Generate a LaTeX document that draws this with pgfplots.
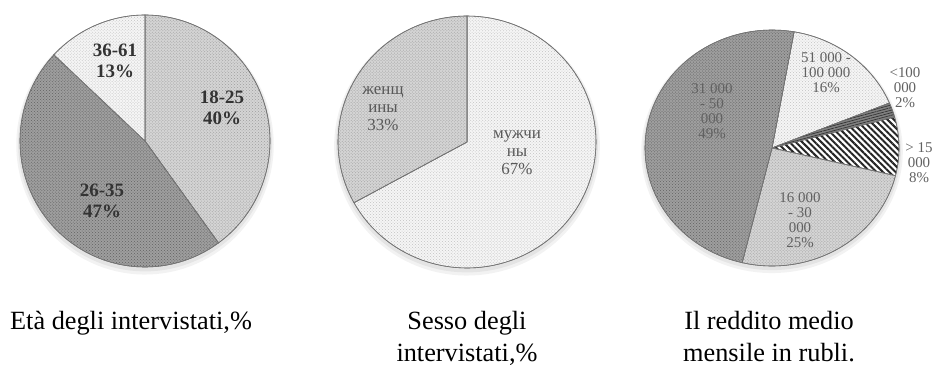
\documentclass[border=0pt]{standalone}
\usepackage{fontspec}
\setmainfont{Liberation Serif}
\usepackage{pgfplots}
\pgfplotsset{compat=1.18}
\usetikzlibrary{patterns,patterns.meta}

% current start angle of the next slice (degrees, slices run clockwise)
\newcommand\piestart{90}
% \slice{share in percent}{style}
\newcommand{\slice}[2]{%
  \pgfmathsetmacro\sa{\piestart}%
  \pgfmathsetmacro\sb{\piestart-3.6*#1}%
  \edef\doslice{\noexpand\addplot[\unexpanded{#2}, domain=\sb:\sa, samples=90]
    ({cos(x)},{sin(x)}) -- (axis cs:0,0) -- cycle;}%
  \doslice
  \xdef\piestart{\sb}}

% soft shadow below a pie
\newcommand{\pieshadow}{%
  \addplot[draw=none, fill=black, fill opacity=0.05, domain=0:360, samples=120]
    ({1.03*cos(x)},{1.03*sin(x)-0.03}) -- cycle;
  \addplot[draw=none, fill=black, fill opacity=0.06, domain=0:360, samples=120]
    ({1.015*cos(x)},{1.015*sin(x)-0.02}) -- cycle;}

\pgfplotsset{
  pie/.style={hide axis, scale only axis, clip=false, anchor=center,
    xmin=-1, xmax=1, ymin=-1, ymax=1},
  slicebase/.style={draw=black!55, line width=0.6bp},
  lightdot/.style={slicebase, fill=black!17,
    postaction={pattern=crosshatch dots, pattern color=black!38}},
  darkdot/.style={slicebase, fill=black!38,
    postaction={pattern=crosshatch dots, pattern color=black!62}},
  whitedot/.style={slicebase, fill=black!4,
    postaction={pattern=crosshatch dots, pattern color=black!24}},
  stripes/.style={slicebase, fill=white,
    postaction={pattern={Lines[angle=-45, distance=4.5pt, line width=2pt]},
      pattern color=black!85}},
  darkline/.style={slicebase, fill=black!50,
    postaction={pattern={Lines[angle=15, distance=2.5pt, line width=0.7pt]},
      pattern color=black!80}},
}

\begin{document}
\begin{tikzpicture}[x=1bp, y=1bp]
\useasboundingbox (0,0) rectangle (934,367);

% --- age of respondents ---
\begin{axis}[pie, at={(145bp,226bp)}, width=250bp, height=252bp]
  \pieshadow
  \renewcommand\piestart{90}
  \slice{40}{lightdot}
  \slice{47}{darkdot}
  \slice{13}{whitedot}
\end{axis}

% --- sex of respondents ---
\begin{axis}[pie, at={(467bp,225bp)}, width=258bp, height=252bp]
  \pieshadow
  \renewcommand\piestart{90}
  \slice{67}{whitedot}
  \slice{33}{lightdot}
\end{axis}

% --- average monthly income ---
\begin{axis}[pie, at={(772bp,219bp)}, width=254bp, height=236bp]
  \pieshadow
  \renewcommand\piestart{80}
  \slice{16}{whitedot}
  \slice{2}{darkline}
  \slice{8}{stripes}
  \slice{25}{lightdot}
  \slice{49}{darkdot}
\end{axis}

% slice labels
\begin{scope}[every node/.style={align=center, text=black!80,
    font=\fontsize{19}{21}\selectfont\bfseries}]
  \node at (115,306) {36-61\\13\%};
  \node at (222,259) {18-25\\40\%};
  \node at (102,166) {26-35\\47\%};
\end{scope}
\begin{scope}[every node/.style={align=center, text=black!65,
    font=\fontsize{17}{18}\selectfont}]
  \node at (383,258) {женщ\\ины\\33\%};
  \node at (517,214) {мужчи\\ны\\67\%};
\end{scope}
\begin{scope}[every node/.style={align=center, text=black!62,
    font=\fontsize{15}{15}\selectfont}]
  \node at (712,256) {31 000\\- 50\\000\\49\%};
  \node at (826,294) {51 000 -\\100 000\\16\%};
  \node at (905,279) {<100\\000\\2\%};
  \node at (919,204) {> 15\\000\\8\%};
  \node at (800,147) {16 000\\- 30\\000\\25\%};
\end{scope}

% captions
\begin{scope}[every node/.style={anchor=base, inner sep=0pt,
    font=\fontsize{26.4}{34}\selectfont}]
  \node at (131,38) {Età degli intervistati,\%};
  \node at (467,38) {Sesso degli};
  \node at (467,6) {intervistati,\%};
  \node at (769,38) {Il reddito medio};
  \node at (769,6) {mensile in rubli.};
\end{scope}
\end{tikzpicture}
\end{document}
